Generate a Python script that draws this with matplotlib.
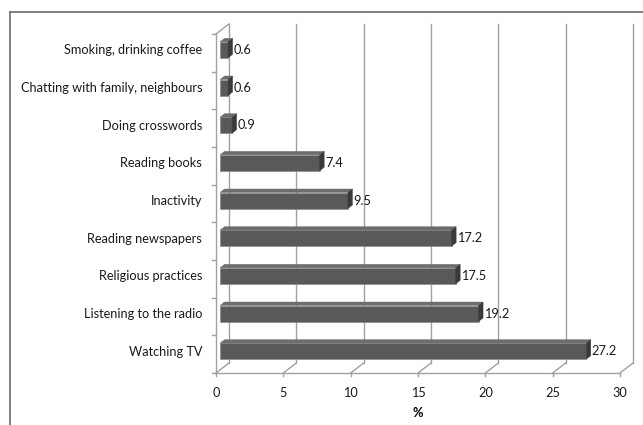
import numpy as np
import matplotlib
matplotlib.use('Agg')
import matplotlib.pyplot as plt
from matplotlib.patches import Polygon
from matplotlib.lines import Line2D

# Leisure activities, shares in %
categories = ['Watching TV', 'Listening to the radio', 'Religious practices',
              'Reading newspapers', 'Inactivity', 'Reading books',
              'Doing crosswords', 'Chatting with family, neighbours',
              'Smoking, drinking coffee']
values = [27.2, 19.2, 17.5, 17.2, 9.5, 7.4, 0.9, 0.6, 0.6]
x_ticks = [0, 5, 10, 15, 20, 25, 30]

plt.rcParams['font.family'] = ['Lato', 'DejaVu Sans']
FS = 9.2

W, H = 643, 425
fig = plt.figure(figsize=(W / 100, H / 100), dpi=100)

# front plane of the 3D box, in pixels
X0, X1 = 216, 620
YB, YT = 373, 34
ax = fig.add_axes([X0 / W, 1 - YB / H, (X1 - X0) / W, (YB - YT) / H])
n = len(categories)
ax.set_xlim(0, 30)
ax.set_ylim(0, n)
for s in ax.spines.values():
    s.set_visible(False)
ax.patch.set_visible(False)

sx = 30 / (X1 - X0)        # data units per pixel along x
sy = n / (YB - YT)         # data units per pixel along y

def off(px, py):
    return px * sx, py * sy

grid_c = '#a0a0a0'
# wall depth
wdx, wdy = off(13, 10)

# back wall gridlines
for t in x_ticks:
    ax.add_line(Line2D([t + wdx, t + wdx], [wdy, n + wdy], color=grid_c,
                       lw=1.0, clip_on=False, zorder=1))
    # floor diagonals
    ax.add_line(Line2D([t, t + wdx], [0, wdy], color=grid_c, lw=1.0,
                       clip_on=False, zorder=1))
    # small tick below floor
    ax.add_line(Line2D([t, t], [0, -3 * sy], color=grid_c, lw=1.0,
                       clip_on=False, zorder=1))
# floor front edge
ax.add_line(Line2D([0, 30], [0, 0], color=grid_c, lw=1.0, clip_on=False, zorder=1))
# left wall
ax.add_line(Line2D([0, 0], [0, n], color=grid_c, lw=1.0, clip_on=False, zorder=1))
ax.add_line(Line2D([0, wdx], [n, n + wdy], color=grid_c, lw=1.0, clip_on=False, zorder=1))
for k in range(n + 1):
    ax.add_line(Line2D([0, -4 * sx], [k, k], color=grid_c, lw=1.0,
                       clip_on=False, zorder=1))

# bars
bdx, bdy = off(4.5, 3.5)        # bar depth
fx, fy = off(4, 3)              # bar front plane shift
bh = 16 * sy                    # bar thickness
front_c, top_c, side_c = '#595959', '#6d6d6d', '#3a3a3a'
for i, v in enumerate(values):
    yc = i + 0.5 + fy
    yb, yt = yc - bh / 2, yc + bh / 2
    x0, x1 = fx, fx + v
    front = Polygon([(x0, yb), (x1, yb), (x1, yt), (x0, yt)], closed=True,
                    facecolor=front_c, edgecolor='#8c8c8c', lw=0.5, zorder=3,
                    clip_on=False)
    top = Polygon([(x0, yt), (x1, yt), (x1 + bdx, yt + bdy), (x0 + bdx, yt + bdy)],
                  closed=True, facecolor=top_c, edgecolor=top_c, lw=0.3,
                  zorder=3, clip_on=False)
    side = Polygon([(x1, yb), (x1 + bdx, yb + bdy), (x1 + bdx, yt + bdy), (x1, yt)],
                   closed=True, facecolor=side_c, edgecolor=side_c, lw=0.3,
                   zorder=3, clip_on=False)
    for p in (front, top, side):
        ax.add_patch(p)
    ax.text(x1 + bdx + 1 * sx, yc, f'{v:.1f}', ha='left', va='center',
            fontsize=FS, color='#1a1a1a', zorder=4)

# axis labels
ax.set_yticks(np.arange(n) + 0.5 + 3.5 * sy)
ax.set_yticklabels(categories, fontsize=FS, color='#1a1a1a')
ax.set_xticks(x_ticks)
ax.set_xticklabels([str(t) for t in x_ticks], fontsize=FS, color='#1a1a1a')
ax.tick_params(axis='y', length=0, pad=10)
ax.tick_params(axis='x', length=0, pad=10)
ax.set_xlabel('%', fontsize=FS, fontweight='bold', labelpad=6)

# outer chart border
fig.add_artist(Line2D([10 / W, 1], [1 - 12 / H, 1 - 12 / H], color='#6b6b6b',
                      lw=1.2, transform=fig.transFigure))
fig.add_artist(Line2D([10 / W, 10 / W], [0, 1 - 12 / H], color='#6b6b6b',
                      lw=1.2, transform=fig.transFigure))

fig.savefig('out.png', dpi=100)
